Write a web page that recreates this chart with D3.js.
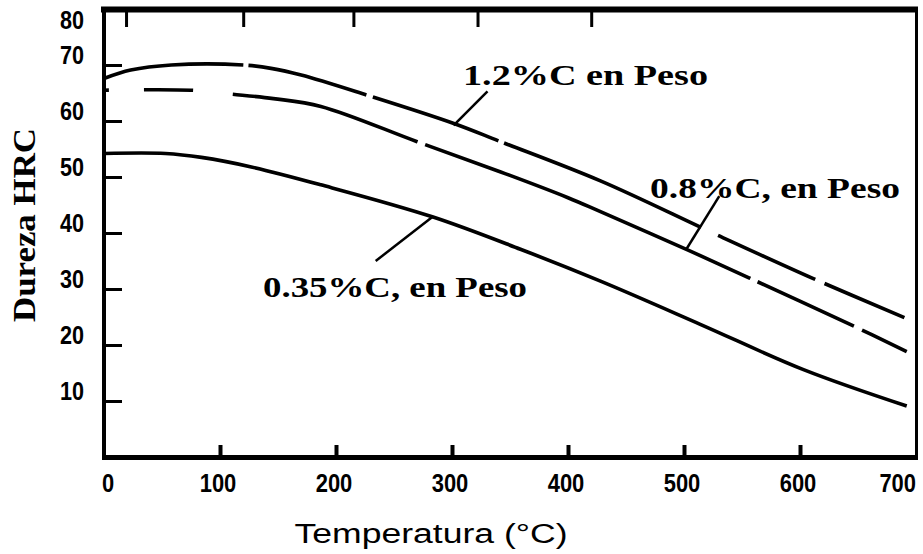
<!DOCTYPE html>
<html>
<head>
<meta charset="utf-8">
<script src="https://cdn.jsdelivr.net/npm/d3@7"></script>
<style>
  html, body { margin: 0; padding: 0; background: #fff; }
  svg { display: block; }
</style>
</head>
<body>
<svg id="chart" width="923" height="554"></svg>
<script>
// ---- data ----
const xTicks = [0, 100, 200, 300, 400, 500, 600, 700];
const xTickLabels = ["0", "100", "200", "300", "400", "500", "600", "700"];
const yTicks = [10, 20, 30, 40, 50, 60, 70, 80];
const yTickLabels = ["10", "20", "30", "40", "50", "60", "70", "80"];
const topTickValues = [19, 120, 215, 322, 420];

const temp12 = [0, 23, 58, 120, 144, 170, 227, 301, 342, 428, 527, 611, 690];
const hrc12  = [67.6, 69.1, 70.0, 70.0, 69.4, 68.2, 64.6, 59.6, 56.3, 49.3, 39.8, 31.9, 24.9];

const temp08 = [0, 75, 110, 146, 187, 270, 342, 400, 428, 504, 556, 646, 692];
const hrc08  = [65.5, 65.5, 64.8, 64.0, 62.6, 56.3, 50.9, 46.3, 43.8, 36.9, 32.0, 23.4, 18.8];

const temp035 = [0, 53, 84, 127, 187, 283, 359, 428, 514, 603, 692];
const hrc035  = [54.2, 54.2, 53.5, 51.8, 48.6, 42.9, 37.1, 31.4, 23.7, 15.6, 9.1];

const seriesNames = ["1.2%C en Peso", "0.8%C, en Peso", "0.35%C, en Peso"];

// ---- chart ----
const svg = d3.select("#chart");
const x = d3.scaleLinear().domain([0, 700]).range([104, 916]);
const y = d3.scaleLinear().domain([0, 80]).range([457, 9]);

const series = [
  { name: seriesNames[0], pts: temp12.map((t, i) => [t, hrc12[i]]), dash: "141,5,122,7,133,6,214,19,107,10,300" },
  { name: seriesNames[1], pts: temp08.map((t, i) => [t, hrc08[i]]), dash: "5,35,49,40,192,8,352,8,106,9,300" },
  { name: seriesNames[2], pts: temp035.map((t, i) => [t, hrc035[i]]), dash: null }
];

const line = d3.line().x(d => x(d[0])).y(d => y(d[1])).curve(d3.curveCatmullRom.alpha(0.5));

svg.append("g").selectAll("path").data(series).join("path")
  .attr("d", d => line(d.pts))
  .attr("fill", "none")
  .attr("stroke", "#000")
  .attr("stroke-width", 3.6)
  .attr("stroke-dasharray", d => d.dash);

// frame
const frame = svg.append("g").attr("stroke", "#000");
frame.append("line").attr("x1", 101).attr("x2", 918).attr("y1", 9.5).attr("y2", 9.5).attr("stroke-width", 6);
frame.append("line").attr("x1", 104).attr("x2", 104).attr("y1", 7).attr("y2", 460).attr("stroke-width", 4);
frame.append("line").attr("x1", 102).attr("x2", 918).attr("y1", 457.5).attr("y2", 457.5).attr("stroke-width", 5);
frame.append("line").attr("x1", 916.5).attr("x2", 916.5).attr("y1", 7).attr("y2", 460).attr("stroke-width", 3);

// bottom axis ticks (pointing inward)
const xAxis = d3.axisBottom(x).tickValues(xTicks.slice(1, -1)).tickSize(-12).tickFormat("");
const gx = svg.append("g").attr("transform", "translate(0,457)").call(xAxis);
gx.select(".domain").remove();
gx.selectAll(".tick line").attr("stroke", "#000").attr("stroke-width", 4);

// top axis ticks
const xTop = d3.axisTop(x).tickValues(topTickValues).tickSize(-16).tickFormat("");
const gt = svg.append("g").attr("transform", "translate(0,11)").call(xTop);
gt.select(".domain").remove();
gt.selectAll(".tick line").attr("stroke", "#000").attr("stroke-width", 3);

// left axis ticks
const yAxis = d3.axisLeft(y).tickValues(yTicks.slice(0, -1)).tickSize(-18).tickFormat("");
const gy = svg.append("g").attr("transform", "translate(104,0)").call(yAxis);
gy.select(".domain").remove();
gy.selectAll(".tick line").attr("stroke", "#000").attr("stroke-width", 3);

// x tick labels
svg.append("g").selectAll("text").data(xTicks).join("text")
  .attr("x", (d, i) => i === 0 ? 102 : (i === xTicks.length - 1 ? 916 : x(d) - 2))
  .attr("y", 492)
  .attr("text-anchor", (d, i) => i === 0 ? "start" : (i === xTicks.length - 1 ? "end" : "middle"))
  .attr("font-family", "'Liberation Sans', Arial, sans-serif")
  .attr("font-weight", "bold")
  .attr("font-size", 26)
  .attr("textLength", (d, i) => xTickLabels[i].length * 12.2)
  .attr("lengthAdjust", "spacingAndGlyphs")
  .text((d, i) => xTickLabels[i]);

// y tick labels
svg.append("g").selectAll("text").data(yTicks).join("text")
  .attr("x", 84)
  .attr("y", d => Math.max(y(d) - 10, 20) + 9)
  .attr("text-anchor", "end")
  .attr("font-family", "'Liberation Sans', Arial, sans-serif")
  .attr("font-weight", "bold")
  .attr("font-size", 25)
  .attr("textLength", (d, i) => yTickLabels[i].length * 12)
  .attr("lengthAdjust", "spacingAndGlyphs")
  .text((d, i) => yTickLabels[i]);

// axis titles
svg.append("text")
  .attr("transform", "translate(35,225) rotate(-90)")
  .attr("text-anchor", "middle")
  .attr("font-family", "'Liberation Serif', 'Times New Roman', serif")
  .attr("font-weight", "bold")
  .attr("font-size", 31)
  .attr("textLength", 194)
  .attr("lengthAdjust", "spacingAndGlyphs")
  .text("Dureza HRC");

svg.append("text")
  .attr("x", 431).attr("y", 543)
  .attr("text-anchor", "middle")
  .attr("font-family", "'Liberation Sans', Arial, sans-serif")
  .attr("font-size", 27)
  .attr("textLength", 273)
  .attr("lengthAdjust", "spacingAndGlyphs")
  .text("Temperatura (°C)");

// annotations (label + leader to its curve)
const notes = [
  { text: seriesNames[0], tx: 463, ty: 85, len: 245, from: [330.6, 65.3], to: [301.4, 59.2] },
  { text: seriesNames[1], tx: 650, ty: 198, len: 250, from: [530.4, 46.6], to: [502, 37.1] },
  { text: seriesNames[2], tx: 263, ty: 297, len: 264, from: [234.2, 35.0], to: [283.3, 42.9] }
];
const ng = svg.append("g");
ng.selectAll("line").data(notes).join("line")
  .attr("x1", d => x(d.from[0])).attr("y1", d => y(d.from[1]))
  .attr("x2", d => x(d.to[0])).attr("y2", d => y(d.to[1]))
  .attr("stroke", "#000").attr("stroke-width", 2.5);
ng.selectAll("text").data(notes).join("text")
  .attr("x", d => d.tx).attr("y", d => d.ty)
  .attr("font-family", "'Liberation Serif', 'Times New Roman', serif")
  .attr("font-weight", "bold")
  .attr("font-size", 29)
  .attr("textLength", d => d.len)
  .attr("lengthAdjust", "spacingAndGlyphs")
  .text(d => d.text);
</script>
</body>
</html>
